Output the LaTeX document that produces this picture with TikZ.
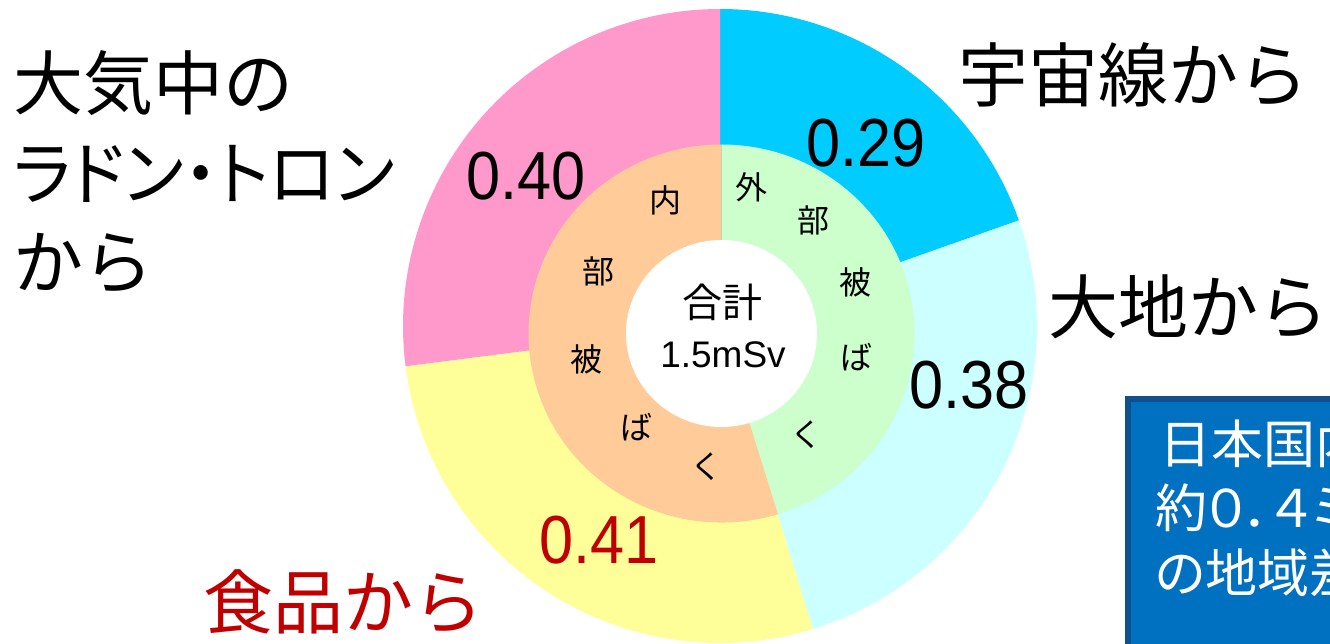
\documentclass[tikz,border=0pt]{standalone}
\usepackage{fontspec}
\newfontfamily\jp{Noto Sans CJK JP}
\newfontfamily\jpp[RawFeature=+palt]{Noto Sans CJK JP}
\newfontfamily\numf[FakeStretch=0.9]{Liberation Sans}
\newfontfamily\latf{Liberation Sans}
\definecolor{pinkc}{RGB}{255,153,204}
\definecolor{cyanc}{RGB}{0,204,255}
\definecolor{ltcyan}{RGB}{204,255,255}
\definecolor{yellowc}{RGB}{255,255,153}
\definecolor{orangec}{RGB}{255,204,153}
\definecolor{greenc}{RGB}{204,255,204}
\definecolor{redtext}{RGB}{192,0,0}
\definecolor{boxfill}{RGB}{0,112,192}
\definecolor{boxline}{RGB}{16,80,140}
\begin{document}
\begin{tikzpicture}[x=1pt,y=-1pt,
  biglabel/.style={inner sep=0pt,anchor=base west,font=\jp\fontsize{70}{70}\selectfont},
  vallabel/.style={inner sep=0pt,anchor=base west,font=\numf\fontsize{68}{68}\selectfont},
  ringchar/.style={inner sep=0pt,font=\jp\fontsize{32}{32}\selectfont},
  boxtext/.style={inner sep=0pt,anchor=base west,text=white,font=\jpp\fontsize{52}{52}\selectfont}]
\useasboundingbox (0,0) rectangle (1330,644);
\clip (0,0) rectangle (1330,644);
\coordinate (O) at (720,326);
\coordinate (I) at (721.5,333.5);
% outer ring
\fill[cyanc]   (O) -- ++(-90:317)   arc[start angle=-90,  end angle=-19.46, radius=317] -- cycle;
\fill[ltcyan]  (O) -- ++(-19.46:317) arc[start angle=-19.46,end angle=72.97, radius=317] -- cycle;
\fill[yellowc] (O) -- ++(72.97:317) arc[start angle=72.97, end angle=172.70, radius=317] -- cycle;
\fill[pinkc]   (O) -- ++(172.70:317) arc[start angle=172.70,end angle=270, radius=317] -- cycle;
% inner ring
\fill[greenc]  (I) -- ++(-90:193 and 189) arc[start angle=-90, end angle=72.97, x radius=193, y radius=189] -- cycle;
\fill[orangec] (I) -- ++(72.97:193 and 189) arc[start angle=72.97, end angle=270, x radius=193, y radius=189] -- cycle;
\fill[white] (I) ellipse[x radius=95.5, y radius=93.5];
% ring texts
\node[ringchar] (n1) at (665,200) {内};
\node[ringchar] (n2) at (598.5,271) {部};
\node[ringchar] (n3) at (586.5,359) {被};
\node[ringchar] (n4) at (636,427.5) {ば};
\node[ringchar] (n5) at (706,467) {く};
\node[ringchar] (g1) at (751.5,187.5) {外};
\node[ringchar] (g2) at (813.5,220) {部};
\node[ringchar] (g3) at (855,282) {被};
\node[ringchar] (g4) at (856,357) {ば};
\node[ringchar] (g5) at (806,435) {く};
% centre
\node[inner sep=0pt,font=\jp\fontsize{40}{40}\selectfont] (total) at (722,302.5) {合計};
\node[inner sep=0pt,anchor=base,font=\latf\fontsize{37}{37}\selectfont] (sum) at (723,367) {1.5mSv};
% values
\node[vallabel] (v40) at (466,200) {0.40};
\node[vallabel] (v29) at (806,167) {0.29};
\node[vallabel] (v38) at (909.5,408.6) {0.38};
\node[vallabel,text=redtext] (v41) at (539,563) {0.41};
% labels
\node[biglabel] (radon1) at (13,110) {大気中の};
\node[biglabel] (radon2) at (13,200) {\scalebox{0.96}[1]{\jpp ラドン・トロン}};
\node[biglabel] (radon3) at (13,288) {から};
\node[biglabel] (cosmic) at (958,102) {宇宙線から};
\node[biglabel] (ground) at (1048,333) {大地から};
\node[biglabel,text=redtext] (food) at (203,628) {食品から};
% blue box
\draw[boxline,line width=5.5pt,fill=boxfill] (1128,399.2) rectangle (1360,680);
\node[boxtext] (b1) at (1159,463) {日本国内};
\node[boxtext] (b2) at (1155,527) {約０．４ミ};
\node[boxtext] (b3) at (1155,592) {の地域差};
\end{tikzpicture}
\end{document}
